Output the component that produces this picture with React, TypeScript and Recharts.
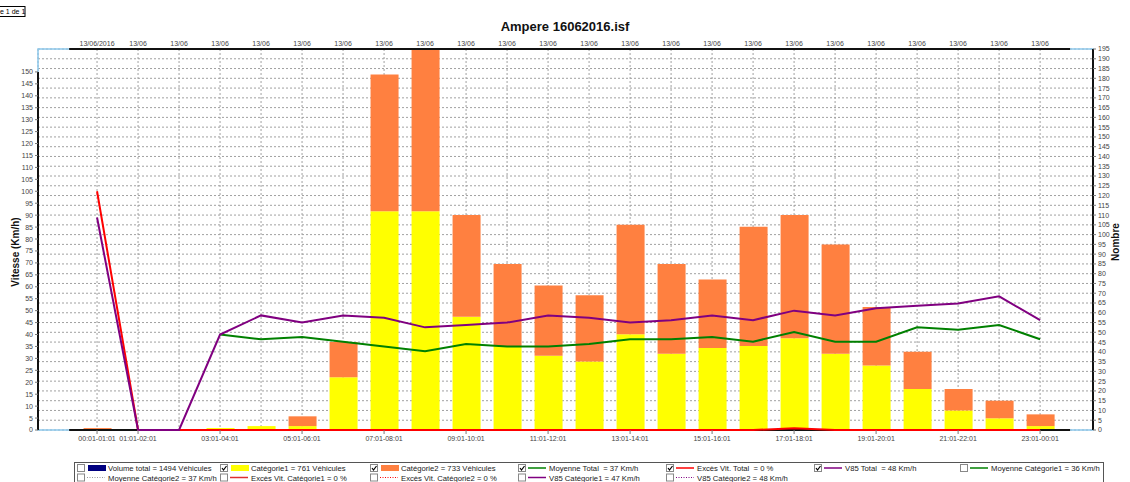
import React from "react";
import {
  ComposedChart,
  Bar,
  Line,
  XAxis,
  YAxis,
  CartesianGrid,
  ReferenceLine,
  ReferenceArea,
} from "recharts";

const hourLabels = [
  "00:01-01:01", "01:01-02:01", "02:01-03:01", "03:01-04:01", "04:01-05:01", "05:01-06:01",
  "06:01-07:01", "07:01-08:01", "08:01-09:01", "09:01-10:01", "10:01-11:01", "11:01-12:01",
  "12:01-13:01", "13:01-14:01", "14:01-15:01", "15:01-16:01", "16:01-17:01", "17:01-18:01",
  "18:01-19:01", "19:01-20:01", "20:01-21:01", "21:01-22:01", "22:01-23:01", "23:01-00:01",
];
const topDateLabels = [
  "13/06/2016", "13/06", "13/06", "13/06", "13/06", "13/06", "13/06", "13/06",
  "13/06", "13/06", "13/06", "13/06", "13/06", "13/06", "13/06", "13/06",
  "13/06", "13/06", "13/06", "13/06", "13/06", "13/06", "13/06", "13/06",
];
const bottomTicks = [0, 1, 3, 5, 7, 9, 11, 13, 15, 17, 19, 21, 23];

// counts (right axis, Nombre)
const categorie1 = [0, 0, 0, 1, 2, 2, 27, 112, 112, 58, 43, 38, 35, 49, 39, 42, 43, 47, 39, 33, 21, 10, 6, 2];
const categorie2 = [1, 0, 0, 0, 0, 5, 18, 70, 83, 52, 42, 36, 34, 56, 46, 35, 61, 63, 56, 30, 19, 11, 9, 6];

// speeds (left axis, Km/h)
const moyenneTotal = [null, null, null, 40, 38, 39, 37, 35, 33, 36, 35, 35, 36, 38, 38, 39, 37, 41, 37, 37, 43, 42, 44, 38];
const excesTotal = [100, 0, 0, 0, 0, 0, 0, 0, 0, 0, 0, 0, 0, 0, 0, 0, 0, 0.7, 0, 0, 0, 0, 0, 0];
const v85Total = [89, 0, 0, 40, 48, 45, 48, 47, 43, 44, 45, 48, 47, 45, 46, 48, 46, 50, 48, 51, 52, 53, 56, 46];

const leftTicks = Array.from({ length: 31 }, (_, i) => i * 5);
const rightTicks = Array.from({ length: 40 }, (_, i) => i * 5);
const topTicks = Array.from({ length: 24 }, (_, i) => i);

const legendRow1 = [
  { label: "Volume total = 1494 Véhicules", kind: "box", color: "#000080", checked: false },
  { label: "Catégorie1 = 761 Véhicules", kind: "box", color: "#ffff00", checked: true },
  { label: "Catégorie2 = 733 Véhicules", kind: "box", color: "#ff8040", checked: true },
  { label: "Moyenne Total  = 37 Km/h", kind: "line", color: "#008000", checked: true },
  { label: "Excès Vit. Total  = 0 %", kind: "line", color: "#ff0000", checked: true },
  { label: "V85 Total  = 48 Km/h", kind: "line", color: "#800080", checked: true },
  { label: "Moyenne Catégorie1 = 36 Km/h", kind: "line", color: "#008000", checked: false },
];
const legendRow2 = [
  { label: "Moyenne Catégorie2 = 37 Km/h", kind: "dots", color: "#999999", checked: false },
  { label: "Excès Vit. Catégorie1 = 0 %", kind: "line", color: "#e03030", checked: false },
  { label: "Excès Vit. Catégorie2 = 0 %", kind: "dots", color: "#ff0000", checked: false },
  { label: "V85 Catégorie1 = 47 Km/h", kind: "line", color: "#800080", checked: false },
  { label: "V85 Catégorie2 = 48 Km/h", kind: "dots", color: "#800080", checked: false },
];
const legendColX = [77, 220, 370, 518, 666, 814, 960];

const XMIN = -1.44;
const XMAX = 24.29;
const FONT = "'Liberation Sans', Arial, sans-serif";

const data = hourLabels.map((label, h) => ({
  h,
  label,
  cat1: categorie1[h],
  cat2: categorie2[h],
  moy: moyenneTotal[h],
  exces: excesTotal[h],
  v85: v85Total[h],
}));

const tickStyle = { fontSize: 7, fill: "#444", fontFamily: FONT };

function LegendItem({ item, x, y }: { item: any; x: number; y: number }) {
  return (
    <g>
      <rect x={x + 0.5} y={y - 3.5} width={7} height={7} fill="#fff" stroke="#888" />
      {item.checked && (
        <path d={`M${x + 2} ${y} L${x + 3.5} ${y + 2} L${x + 6.5} ${y - 2}`} stroke="#000" strokeWidth={1.2} fill="none" />
      )}
      {item.kind === "box" && <rect x={x + 11} y={y - 3} width={18} height={6} fill={item.color} />}
      {item.kind === "line" && <line x1={x + 10} x2={x + 28} y1={y} y2={y} stroke={item.color} strokeWidth={1.5} />}
      {item.kind === "dots" && (
        <line x1={x + 10} x2={x + 28} y1={y} y2={y} stroke={item.color} strokeWidth={1} strokeDasharray="1 1.5" />
      )}
      <text x={x + 31} y={y + 3} fontSize={7.7} fill="#222" style={{ whiteSpace: "pre" }}>
        {item.label}
      </text>
    </g>
  );
}

export default function App() {
  return (
    <div style={{ position: "absolute", left: 0, top: 0, width: 1130, height: 482, background: "#fff", overflow: "hidden", fontFamily: FONT }}>
      <ComposedChart
        width={1130}
        height={482}
        data={data}
        margin={{ top: 0, right: 0, bottom: 0, left: 0 }}
      >
        <XAxis
          xAxisId="bottom"
          dataKey="h"
          type="number"
          domain={[XMIN, XMAX]}
          ticks={bottomTicks}
          interval={0}
          tickFormatter={(v: number) => hourLabels[v]}
          height={52}
          axisLine={false}
          tickSize={4}
          tickMargin={2}
          tickLine={{ stroke: "#777" }}
          tick={tickStyle}
        />
        <XAxis
          xAxisId="top"
          orientation="top"
          dataKey="h"
          type="number"
          domain={[XMIN, XMAX]}
          ticks={topTicks}
          interval={0}
          tickFormatter={(v: number) => topDateLabels[v]}
          height={49}
          axisLine={false}
          tickLine={false}
          tickSize={0}
          tickMargin={3}
          tick={tickStyle}
        />
        <YAxis
          yAxisId="left"
          type="number"
          domain={[0, 159.6]}
          ticks={leftTicks}
          interval={0}
          width={38}
          axisLine={false}
          tickSize={3}
          tickMargin={2}
          tickLine={{ stroke: "#777" }}
          tick={tickStyle}
        />
        <YAxis
          yAxisId="right"
          orientation="right"
          type="number"
          domain={[0, 195]}
          ticks={rightTicks}
          interval={0}
          width={37}
          axisLine={false}
          tickSize={3}
          tickMargin={2}
          tickLine={{ stroke: "#777" }}
          tick={tickStyle}
        />
        <CartesianGrid
          xAxisId="top"
          yAxisId="right"
          stroke="#a0a0a0"
          strokeDasharray="2 2"
        />
        <ReferenceArea
          xAxisId="bottom"
          yAxisId="right"
          x1={XMIN}
          x2={XMAX}
          y1={0}
          y2={195}
          fill="none"
          fillOpacity={0}
          stroke="#8cc8ec"
          strokeWidth={1.5}
          ifOverflow="visible"
        />
        <Bar xAxisId="bottom" yAxisId="right" dataKey="cat1" stackId="s" fill="#ffff00" barSize={28} isAnimationActive={false} />
        <Bar xAxisId="bottom" yAxisId="right" dataKey="cat2" stackId="s" fill="#ff8040" barSize={28} isAnimationActive={false} />
        <ReferenceLine
          xAxisId="bottom"
          yAxisId="right"
          segment={[{ x: -0.68, y: 195 }, { x: 23.73, y: 195 }]}
          stroke="#111"
          strokeWidth={2}
          ifOverflow="visible"
        />
        <ReferenceLine
          xAxisId="bottom"
          yAxisId="right"
          segment={[{ x: -0.68, y: 0 }, { x: 23.73, y: 0 }]}
          stroke="#111"
          strokeWidth={2}
          ifOverflow="visible"
        />
        <ReferenceLine
          xAxisId="bottom"
          yAxisId="left"
          segment={[{ x: XMIN, y: 0 }, { x: XMIN, y: 150 }]}
          stroke="#111"
          strokeWidth={2}
          ifOverflow="visible"
        />
        <ReferenceLine
          xAxisId="bottom"
          yAxisId="right"
          segment={[{ x: XMAX, y: 0 }, { x: XMAX, y: 195 }]}
          stroke="#111"
          strokeWidth={2}
          ifOverflow="visible"
        />
        <Line xAxisId="bottom" yAxisId="left" dataKey="moy" type="linear" stroke="#008000" strokeWidth={2} dot={false} activeDot={false} isAnimationActive={false} />
        <Line xAxisId="bottom" yAxisId="left" dataKey="exces" type="linear" stroke="#ff0000" strokeWidth={2} dot={false} activeDot={false} isAnimationActive={false} />
        <Line xAxisId="bottom" yAxisId="left" dataKey="v85" type="linear" stroke="#800080" strokeWidth={2} dot={false} activeDot={false} isAnimationActive={false} />
      </ComposedChart>

      <svg
        width={1130}
        height={482}
        style={{ position: "absolute", left: 0, top: 0, pointerEvents: "none", fontFamily: FONT }}
      >
        <rect x={-1} y={6.5} width={26} height={10} fill="#fff" stroke="#000" />
        <text x={0} y={14} fontSize={7} fill="#000">e 1 de 1</text>

        <text x={565} y={31} textAnchor="middle" fontSize={13} fontWeight="bold" fill="#111">
          Ampere 16062016.isf
        </text>
        <text transform="translate(19 252) rotate(-90)" textAnchor="middle" fontSize={10} fontWeight="bold" fill="#111">
          Vitesse  (Km/h)
        </text>
        <text transform="translate(1119 242) rotate(-90)" textAnchor="middle" fontSize={10} fontWeight="bold" fill="#111">
          Nombre
        </text>

        <rect x={74.5} y={462.5} width={1029} height={30} fill="#fff" stroke="#555" />
        {legendRow1.map((item, i) => (
          <LegendItem key={"r1" + i} item={item} x={legendColX[i]} y={468} />
        ))}
        {legendRow2.map((item, i) => (
          <LegendItem key={"r2" + i} item={item} x={legendColX[i]} y={477.5} />
        ))}
      </svg>
    </div>
  );
}
